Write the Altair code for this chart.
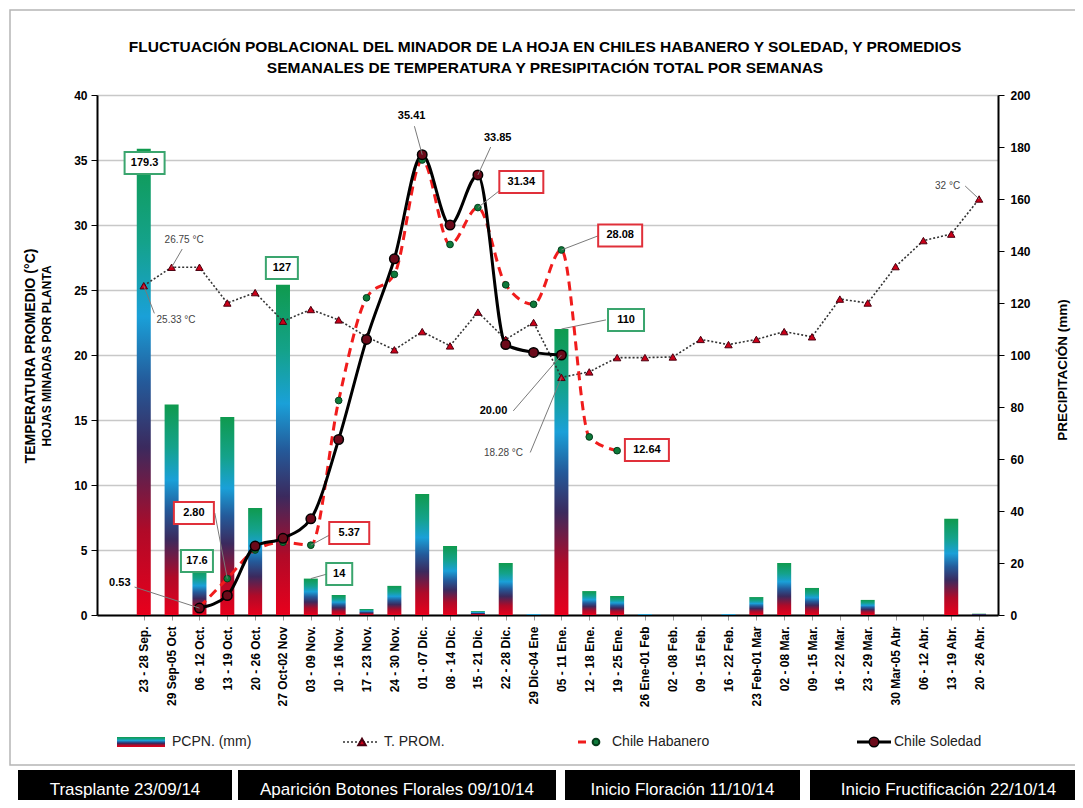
import altair as alt
import pandas as pd

# ---------------- data ----------------
categories = ["23 - 28 Sep.", "29 Sep-05 Oct", "06 - 12 Oct.", "13 - 19 Oct.", "20 - 26 Oct.",
              "27 Oct-02 Nov", "03 - 09 Nov.", "10 - 16 Nov.", "17 - 23 Nov.", "24 - 30 Nov.",
              "01 - 07 Dic.", "08 - 14 Dic.", "15 - 21 Dic.", "22 - 28 Dic.", "29 Dic-04 Ene",
              "05 - 11 Ene.", "12 - 18 Ene.", "19 - 25 Ene.", "26 Ene-01 Feb", "02 - 08 Feb.",
              "09 - 15 Feb.", "16 - 22 Feb.", "23 Feb-01 Mar", "02 - 08 Mar.", "09 - 15 Mar.",
              "16 - 22 Mar.", "23 - 29 Mar.", "30 Mar-05 Abr", "06 - 12 Abr.", "13 - 19 Abr.",
              "20 - 26 Abr."]

pcpn_mm = [179.3, 81, 17.6, 76.2, 41.2, 127, 14, 7.7, 2.3, 11.2, 46.5, 26.5, 1.5, 20, 0.3,
           110, 9.2, 7.3, 0.3, 0, 0, 0.3, 6.9, 20, 10.4, 0, 5.8, 0, 0, 37, 0.5]

t_prom = [25.33, 26.75, 26.75, 24.0, 24.8, 22.6, 23.5, 22.7, 21.4, 20.4, 21.8, 20.7, 23.3, 21.2,
          22.5, 18.28, 18.7, 19.8, 19.8, 19.85, 21.2, 20.8, 21.2, 21.8, 21.4, 24.3, 24.0, 26.8,
          28.8, 29.3, 32.0]

chile_habanero = [None, None, 0.6, 2.80, 5.0, 5.6, 5.37, 16.5, 24.4, 26.2, 35.0, 28.5, 31.34,
                  25.4, 23.9, 28.08, 13.7, 12.64] + [None] * 13

chile_soledad = [None, None, 0.53, 1.5, 5.3, 5.9, 7.4, 13.5, 21.2, 27.4, 35.41, 30.0, 33.85,
                 20.8, 20.2, 20.00] + [None] * 15

title_lines = ["FLUCTUACIÓN POBLACIONAL DEL MINADOR DE LA HOJA EN CHILES HABANERO Y SOLEDAD, Y PROMEDIOS",
               "SEMANALES DE TEMPERATURA Y PRESIPITACIÓN TOTAL POR SEMANAS"]
left_titles = ["TEMPERATURA PROMEDIO (°C)", "HOJAS MINADAS POR PLANTA"]
right_title = "PRECIPITACIÓN (mm)"

stage_labels = ["Trasplante 23/09/14", "Aparición Botones Florales 09/10/14",
                "Inicio Floración 11/10/14", "Inicio Fructificación 22/10/14"]

# annotations (label, x index, value, box width)
red_boxes = [("2.80", 2.80, 7.85, 40), ("5.37", 8.38, 6.3, 40), ("31.34", 14.56, 33.3, 44),
             ("28.08", 18.11, 29.2, 44), ("12.64", 19.07, 12.7, 44)]
green_boxes = [("179.3", 1.03, 173.8, 40), ("17.6", 2.91, 20.8, 32), ("127", 5.96, 133.5, 32),
               ("14", 8.02, 15.8, 26), ("110", 18.32, 113.5, 36)]
plain_labels = [("35.41", 10.62, 38.4), ("33.85", 13.71, 36.7), ("0.53", 0.14, 2.46),
                ("20.00", 13.56, 15.7)]
temp_labels = [("26.75 °C", 2.45, 28.85), ("25.33 °C", 2.16, 22.7), ("18.28 °C", 13.92, 12.5),
               ("32 °C", 29.87, 33.0)]
left_leaders = [(4, 2.80, 3.55, 7.85), (7, 5.37, 7.67, 6.15), (13, 31.34, 13.81, 32.7),
                (16, 28.08, 17.36, 29.2), (11, 35.41, 10.72, 37.6), (13, 33.85, 13.46, 36.0),
                (3, 0.53, 0.67, 2.15), (16, 20.0, 14.27, 15.7), (2, 26.75, 2.38, 28.15),
                (1, 25.33, 1.38, 23.2), (16, 18.28, 14.88, 12.5), (31, 32.0, 30.5, 33.0)]
right_leaders = [(7, 14, 7.6, 15.8), (16, 110, 17.6, 113.5)]

# ---------------- styling ----------------
FONT = "Liberation Sans"
idx = list(range(1, 32))

grad_stops = [("#e8001c", 0), ("#b00a28", 0.18), ("#3b2a5e", 0.36), ("#245a9a", 0.5),
              ("#1aa0d8", 0.64), ("#14a28a", 0.8), ("#0f9a4e", 1)]
bar_gradient = alt.LinearGradient(
    gradient="linear",
    stops=[alt.GradientStop(color=c, offset=o) for c, o in grad_stops],
    x1=0, x2=0, y1=1, y2=0)

xs = alt.Scale(domain=[-0.5, 31.5], nice=False, zero=False)
label_array = "[''," + ",".join("'" + c + "'" for c in categories) + "]"
xaxis = alt.Axis(values=idx, labelExpr=label_array + "[datum.value]", labelAngle=270,
                 labelFontSize=12, labelFontWeight="bold", labelColor="black", labelFont=FONT,
                 labelPadding=6, domainColor="black", domainWidth=2, tickColor="#999999",
                 tickSize=5, grid=False, title=None, labelOverlap=False, labelFlush=False,
                 labelBound=False)

yl_scale = alt.Scale(domain=[0, 40], nice=False)
yl_axis = alt.Axis(values=list(range(0, 41, 5)), orient="left", labelFontSize=12,
                   labelFontWeight="bold", labelColor="black", labelFont=FONT,
                   domainColor="black", domainWidth=2, tickColor="black", tickSize=6,
                   labelPadding=4, grid=True, gridColor="#c8c8c8", gridWidth=1.5, title=None)

yr_scale = alt.Scale(domain=[0, 200], nice=False)
yr_axis = alt.Axis(values=list(range(0, 201, 20)), orient="right", labelFontSize=12,
                   labelFontWeight="bold", labelColor="black", labelFont=FONT,
                   domainColor="black", domainWidth=2, tickColor="black", tickSize=6,
                   labelPadding=6, grid=False, title=None)


def X(field):
    return alt.X(field, type="quantitative", scale=xs, axis=xaxis)


def YL(field):
    return alt.Y(field, type="quantitative", scale=yl_scale, axis=yl_axis)


def YR(field):
    return alt.Y(field, type="quantitative", scale=yr_scale, axis=yr_axis)


def box_df(items, h=22):
    rows = []
    for t, x, y, w in items:
        r = h / w
        rows.append({"t": t, "x": x, "y": y,
                     "path": f"M-1,{-r}L1,{-r}L1,{r}L-1,{r}Z", "sz": w * w})
    return pd.DataFrame(rows)


# ---------------- right-axis layers (precipitation) ----------------
bars_df = pd.DataFrame({"i": idx, "pcpn": pcpn_mm})
bars = alt.Chart(bars_df).mark_bar(size=14, color=bar_gradient).encode(x=X("i"), y=YR("pcpn"))

gdf = box_df(green_boxes)
rl_df = pd.DataFrame(right_leaders, columns=["x1", "y1", "x2", "y2"])
r_lead = alt.Chart(rl_df).mark_rule(color="#7a7a7a", strokeWidth=1).encode(
    x=X("x1"), y=YR("y1"), x2="x2:Q", y2="y2:Q")
g_box = alt.Chart(gdf).mark_point(filled=True, fill="white", stroke="#3aa56e", strokeWidth=2,
                                  opacity=1).encode(
    x=X("x"), y=YR("y"), shape=alt.Shape("path:N", scale=None), size=alt.Size("sz:Q", scale=None))
g_txt = alt.Chart(gdf).mark_text(font=FONT, fontSize=11, fontWeight="bold", color="black").encode(
    x=X("x"), y=YR("y"), text="t:N")

right_layer = alt.layer(bars, r_lead, g_box, g_txt)

# ---------------- left-axis layers (temperature / leaves) ----------------
series_df = pd.DataFrame({"i": idx, "t": t_prom, "h": chile_habanero, "s": chile_soledad})
hab_df = series_df.dropna(subset=["h"])
sol_df = series_df.dropna(subset=["s"])

t_line = alt.Chart(series_df).mark_line(color="#333333", strokeWidth=1.6, strokeDash=[2, 2]).encode(
    x=X("i"), y=YL("t"))
h_line = alt.Chart(hab_df).mark_line(color="#f01c1c", strokeWidth=3, strokeDash=[9, 6],
                                     interpolate="monotone").encode(x=X("i"), y=YL("h"))
s_line = alt.Chart(sol_df).mark_line(color="black", strokeWidth=3, interpolate="monotone").encode(
    x=X("i"), y=YL("s"))
t_pts = alt.Chart(series_df).mark_point(shape="triangle-up", filled=True, fill="#cc0018",
                                        stroke="#4a0010", strokeWidth=1, size=55, opacity=1).encode(
    x=X("i"), y=YL("t"))
h_pts = alt.Chart(hab_df).mark_point(shape="circle", filled=True, fill="#0e7a3a", stroke="#053d1c",
                                     strokeWidth=1, size=45, opacity=1).encode(x=X("i"), y=YL("h"))
s_pts = alt.Chart(sol_df).mark_point(shape="circle", filled=True, fill="#6b0a1a", stroke="black",
                                     strokeWidth=1.5, size=90, opacity=1).encode(x=X("i"), y=YL("s"))

ll_df = pd.DataFrame(left_leaders, columns=["x1", "y1", "x2", "y2"])
l_lead = alt.Chart(ll_df).mark_rule(color="#7a7a7a", strokeWidth=1).encode(
    x=X("x1"), y=YL("y1"), x2="x2:Q", y2="y2:Q")

rdf = box_df(red_boxes)
r_box = alt.Chart(rdf).mark_point(filled=True, fill="white", stroke="#e0303a", strokeWidth=2,
                                  opacity=1).encode(
    x=X("x"), y=YL("y"), shape=alt.Shape("path:N", scale=None), size=alt.Size("sz:Q", scale=None))
r_txt = alt.Chart(rdf).mark_text(font=FONT, fontSize=11, fontWeight="bold", color="black").encode(
    x=X("x"), y=YL("y"), text="t:N")

p_df = pd.DataFrame(plain_labels, columns=["t", "x", "y"])
p_txt = alt.Chart(p_df).mark_text(font=FONT, fontSize=11, fontWeight="bold", color="black").encode(
    x=X("x"), y=YL("y"), text="t:N")
tl_df = pd.DataFrame(temp_labels, columns=["t", "x", "y"])
tl_txt = alt.Chart(tl_df).mark_text(font=FONT, fontSize=10, color="#444444").encode(
    x=X("x"), y=YL("y"), text="t:N")

# ---------------- decorations: frame, titles, legend, stage boxes ----------------
one = pd.DataFrame({"k": [0]})
deco = []
deco.append(alt.Chart(one).mark_rect(fillOpacity=0, stroke="#b5b5b5", strokeWidth=1.5).encode(
    x=alt.value(-87), x2=alt.value(979), y=alt.value(-85), y2=alt.value(670)))

for line, yp in zip(title_lines, [-48, -27]):
    deco.append(alt.Chart(one).mark_text(font=FONT, fontSize=15.5, fontWeight="bold", color="black",
                                         align="center", baseline="middle").encode(
        x=alt.value(448), y=alt.value(yp), text=alt.value(line)))

for line, xp, fs in zip(left_titles, [-66, -50], [14, 12]):
    deco.append(alt.Chart(one).mark_text(font=FONT, fontSize=fs, fontWeight="bold", color="black",
                                         align="center", baseline="middle", angle=270).encode(
        x=alt.value(xp), y=alt.value(261), text=alt.value(line)))
deco.append(alt.Chart(one).mark_text(font=FONT, fontSize=13.5, fontWeight="bold", color="black",
                                     align="center", baseline="middle", angle=270).encode(
    x=alt.value(966), y=alt.value(275), text=alt.value(right_title)))

LY = 647
deco.append(alt.Chart(one).mark_rect(color=bar_gradient).encode(
    x=alt.value(20), x2=alt.value(68), y=alt.value(LY - 5), y2=alt.value(LY + 5)))
deco.append(alt.Chart(one).mark_rule(color="#333333", strokeWidth=1.6, strokeDash=[2, 2]).encode(
    x=alt.value(246), x2=alt.value(281), y=alt.value(LY)))
deco.append(alt.Chart(one).mark_point(shape="triangle-up", filled=True, fill="#cc0018",
                                      stroke="#4a0010", size=55, opacity=1).encode(
    x=alt.value(265), y=alt.value(LY)))
deco.append(alt.Chart(one).mark_rule(color="#f01c1c", strokeWidth=3, strokeDash=[8, 6]).encode(
    x=alt.value(481), x2=alt.value(509), y=alt.value(LY)))
deco.append(alt.Chart(one).mark_point(shape="circle", filled=True, fill="#0e7a3a",
                                      stroke="#053d1c", size=45, opacity=1).encode(
    x=alt.value(499), y=alt.value(LY)))
deco.append(alt.Chart(one).mark_rule(color="black", strokeWidth=3).encode(
    x=alt.value(760), x2=alt.value(794), y=alt.value(LY)))
deco.append(alt.Chart(one).mark_point(shape="circle", filled=True, fill="#6b0a1a", stroke="black",
                                      strokeWidth=1.5, size=90, opacity=1).encode(
    x=alt.value(777), y=alt.value(LY)))
for txt, xp in [("PCPN. (mm)", 75), ("T. PROM.", 287), ("Chile Habanero", 515), ("Chile Soledad", 797)]:
    deco.append(alt.Chart(one).mark_text(font=FONT, fontSize=14, align="left", baseline="middle",
                                         color="#222222").encode(
        x=alt.value(xp), y=alt.value(LY), text=alt.value(txt)))

box_x = [(-79, 135), (141, 459), (468, 703), (713, 990)]
for lab, (a, b) in zip(stage_labels, box_x):
    deco.append(alt.Chart(one).mark_rect(color="black").encode(
        x=alt.value(a), x2=alt.value(b), y=alt.value(675), y2=alt.value(725)))
    deco.append(alt.Chart(one).mark_text(font=FONT, fontSize=17, color="white", align="center",
                                         baseline="middle").encode(
        x=alt.value((a + b) / 2), y=alt.value(695), text=alt.value(lab)))

left_layer = alt.layer(t_line, h_line, s_line, t_pts, h_pts, s_pts, l_lead, r_box, r_txt,
                       p_txt, tl_txt, *deco)

chart = alt.layer(right_layer, left_layer).resolve_scale(y="independent").properties(
    width=901, height=520,
    autosize=alt.AutoSizeParams(type="none"),
    padding={"left": 89, "top": 87, "right": 77, "bottom": 185},
).configure_view(strokeWidth=0).configure(background="white")

chart.save("out.html", embed_options={"renderer": "svg", "actions": False})
